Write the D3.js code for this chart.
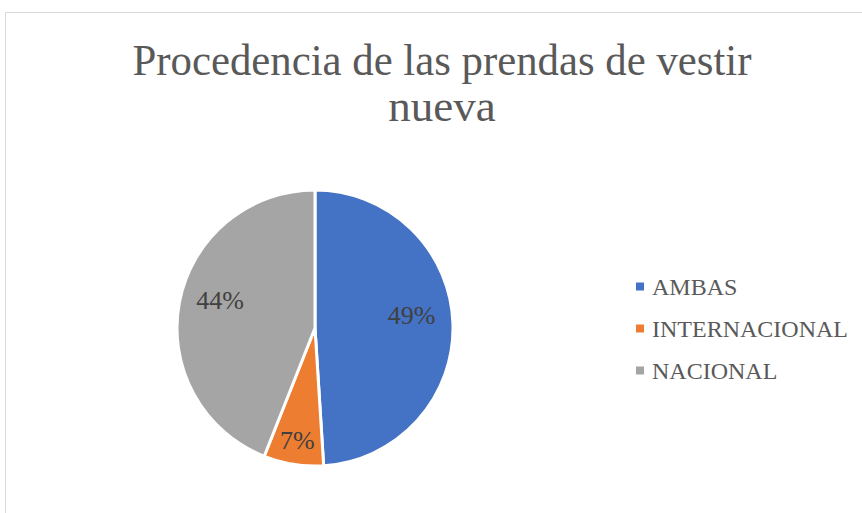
<!DOCTYPE html>
<html>
<head>
<meta charset="utf-8">
<script src="https://cdn.jsdelivr.net/npm/d3@7"></script>
<style>
  body { margin: 0; background: #fff; }
  svg { display: block; }
</style>
</head>
<body>
<svg id="chart" width="862" height="513"></svg>
<script>
var categories = ["AMBAS", "INTERNACIONAL", "NACIONAL"];
var values = [49, 7, 44];
var labels = ["49%", "7%", "44%"];
var colors = ["#4472C4", "#ED7D31", "#A5A5A5"];
var titleLines = ["Procedencia de las prendas de vestir", "nueva"];

var svg = d3.select("#chart");
var serif = "'Liberation Serif', 'Times New Roman', serif";

// chart frame (only left and top edges show in the picture)
svg.append("rect")
	.attr("x", 5.5).attr("y", 12.5)
	.attr("width", 900).attr("height", 600)
	.attr("fill", "none").attr("stroke", "#d9d9d9");

// title, slightly condensed like the original
var title = svg.append("g").selectAll("text")
	.data(titleLines)
	.enter().append("text")
		.attr("x", 442)
		.attr("y", function(d, i) { return 75 + i * 46; })
		.attr("text-anchor", "middle")
		.style("font-family", serif)
		.style("font-size", "45px")
		.style("fill", "#595959")
		.text(function(d) { return d; });
title.filter(function(d, i) { return i == 0; })
	.attr("textLength", 619)
	.attr("lengthAdjust", "spacingAndGlyphs");

// pie
var cx = 315, cy = 328, r = 138;
var pie = d3.pie().sort(null).value(function(d) { return d; });
var arcs = pie(values);
var arc = d3.arc().innerRadius(0).outerRadius(r);

var g = svg.append("g").attr("transform", "translate(" + cx + "," + cy + ")");

g.selectAll("path")
	.data(arcs)
	.enter().append("path")
		.attr("d", arc)
		.attr("fill", function(d, i) { return colors[i]; })
		.attr("stroke", "#fff")
		.attr("stroke-width", 3)
		.attr("stroke-linejoin", "round");

// small slices get their label pushed further out
function labelPos(d) {
	var small = (d.endAngle - d.startAngle) < 0.6;
	var lr = small ? r * 0.82 : r * 0.7;
	var p = d3.arc().innerRadius(lr).outerRadius(lr).centroid(d);
	if (!small) p[1] -= 10;
	return p;
}

g.selectAll("text")
	.data(arcs)
	.enter().append("text")
		.attr("transform", function(d) { return "translate(" + labelPos(d) + ")"; })
		.attr("text-anchor", "middle")
		.attr("dy", "0.35em")
		.style("font-family", serif)
		.style("font-size", "26px")
		.style("fill", "#404040")
		.text(function(d, i) { return labels[i]; });

// legend
var legend = svg.append("g").attr("transform", "translate(636,287)");
var rows = legend.selectAll("g")
	.data(categories)
	.enter().append("g")
		.attr("transform", function(d, i) { return "translate(0," + (i * 42) + ")"; });

rows.append("rect")
	.attr("x", 0).attr("y", -4.5)
	.attr("width", 8).attr("height", 8)
	.attr("fill", function(d, i) { return colors[i]; });

rows.append("text")
	.attr("x", 16)
	.attr("dy", "0.35em")
	.style("font-family", serif)
	.style("font-size", "24px")
	.style("fill", "#595959")
	.text(function(d) { return d; });
</script>
</body>
</html>
